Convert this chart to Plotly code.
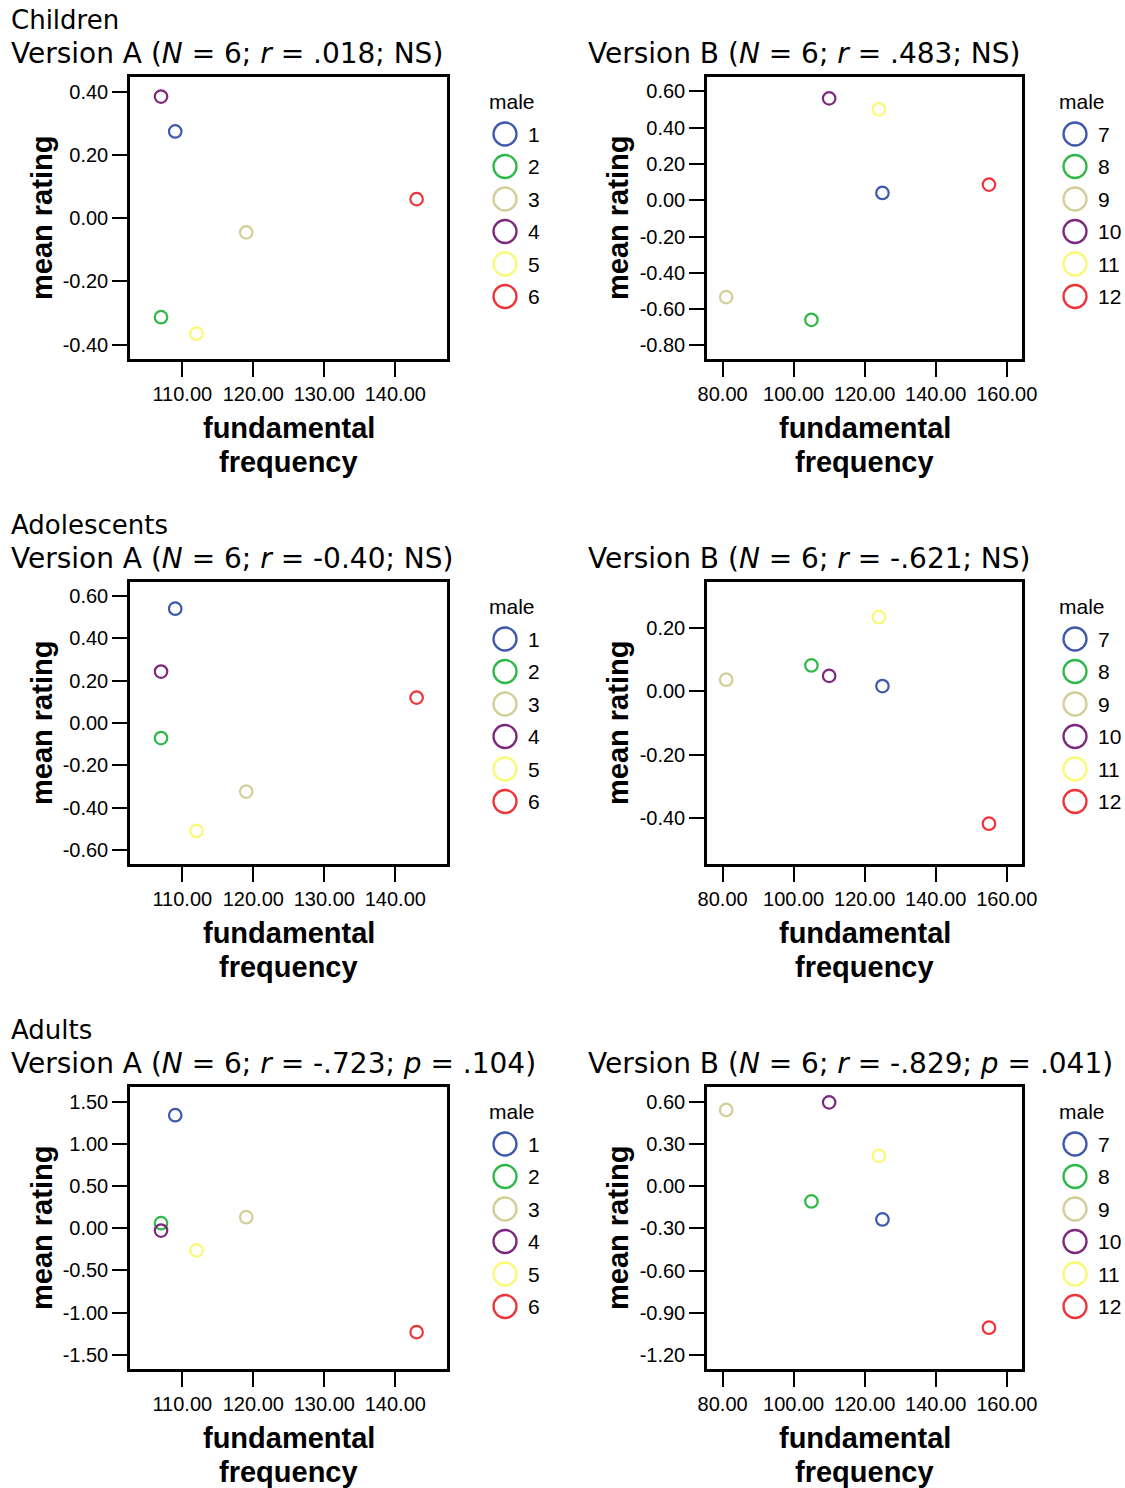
import plotly.graph_objects as go

W, H = 1125, 1488

# ---------------- data ----------------
males_A = ["1", "2", "3", "4", "5", "6"]
males_B = ["7", "8", "9", "10", "11", "12"]
freq_A = [109, 107, 119, 107, 112, 143]
freq_B = [125, 105, 81, 110, 124, 155]

rating_children_A = [0.274, -0.313, -0.045, 0.384, -0.365, 0.060]
rating_children_B = [0.040, -0.659, -0.534, 0.561, 0.501, 0.086]
rating_adolescents_A = [0.540, -0.071, -0.324, 0.243, -0.510, 0.120]
rating_adolescents_B = [0.016, 0.081, 0.036, 0.048, 0.233, -0.418]
rating_adults_A = [1.339, 0.059, 0.130, -0.028, -0.263, -1.232]
rating_adults_B = [-0.236, -0.108, 0.541, 0.595, 0.215, -1.004]

group_names = ["Children", "Adolescents", "Adults"]
titles_A = ["Version A (<i>N</i> = 6; <i>r</i> = .018; NS)",
            "Version A (<i>N</i> = 6; <i>r</i> = -0.40; NS)",
            "Version A (<i>N</i> = 6; <i>r</i> = -.723; <i>p</i> = .104)"]
titles_B = ["Version B (<i>N</i> = 6; <i>r</i> = .483; NS)",
            "Version B (<i>N</i> = 6; <i>r</i> = -.621; NS)",
            "Version B (<i>N</i> = 6; <i>r</i> = -.829; <i>p</i> = .041)"]

xticks_A = [110, 120, 130, 140]
xticks_B = [80, 100, 120, 140, 160]
yticks = [
    [-0.4, -0.2, 0.0, 0.2, 0.4],
    [-0.8, -0.6, -0.4, -0.2, 0.0, 0.2, 0.4, 0.6],
    [-0.6, -0.4, -0.2, 0.0, 0.2, 0.4, 0.6],
    [-0.4, -0.2, 0.0, 0.2],
    [-1.5, -1.0, -0.5, 0.0, 0.5, 1.0, 1.5],
    [-1.2, -0.9, -0.6, -0.3, 0.0, 0.3, 0.6],
]
colors = ["#3E58AC", "#2EB848", "#D3CE97", "#7C287D", "#FBF873", "#EF3338"]

# ---------------- layout config ----------------
yranges = [[-0.445, 0.446], [-0.875, 0.679], [-0.666, 0.666],
           [-0.545, 0.344], [-1.669, 1.673], [-1.297, 0.704]]
xrange_A = [102.63, 147.28]
xrange_B = [75.6, 164.3]

frame_x = [(130, 447), (707, 1022)]
frame_top = [77, 582, 1087]
frame_h = 282


def fmt(v):
    s = f"{v:.2f}"
    return "0.00" if s == "-0.00" else s


def px(x):
    return x / W


def py(y):
    return 1 - y / H


fig = go.Figure()
annotations = []
shapes = []

panel_data = [
    (rating_children_A, rating_children_B),
    (rating_adolescents_A, rating_adolescents_B),
    (rating_adults_A, rating_adults_B),
]

tick_font = dict(family="Liberation Sans, Arial, sans-serif", size=20, color="black")
group_font = dict(family="DejaVu Sans, Verdana, sans-serif", size=26, color="black")
title_font = dict(family="DejaVu Sans, Verdana, sans-serif", size=28, color="black")
bold_font = dict(family="Liberation Sans, Arial, sans-serif", size=29, color="black")
legend_font = dict(family="Liberation Sans, Arial, sans-serif", size=21, color="black")

idx = 0
for r in range(3):
    top = frame_top[r]
    for c in range(2):
        idx += 1
        k = r * 2 + c
        xa = "x" if idx == 1 else f"x{idx}"
        ya = "y" if idx == 1 else f"y{idx}"
        freqs = freq_A if c == 0 else freq_B
        males = males_A if c == 0 else males_B
        ratings = panel_data[r][c]
        for i in range(6):
            fig.add_trace(go.Scatter(
                x=[freqs[i]], y=[ratings[i]], mode="markers",
                name=males[i], showlegend=False,
                xaxis=xa, yaxis=ya,
                marker=dict(symbol="circle-open", size=12.5, color=colors[i],
                            line=dict(width=2.2, color=colors[i])),
            ))
        x0, x1 = frame_x[c]
        xt = xticks_A if c == 0 else xticks_B
        axis_common = dict(showline=True, mirror=True, linewidth=2.5, linecolor="black",
                           ticks="outside", ticklen=15, tickwidth=2, tickcolor="black",
                           showgrid=False, zeroline=False, tickfont=tick_font,
                           tickangle=0, automargin=False)
        fig.layout[("xaxis" if idx == 1 else f"xaxis{idx}")] = dict(
            domain=[px(x0), px(x1)], anchor=ya,
            range=xrange_A if c == 0 else xrange_B,
            tickvals=xt, ticktext=[fmt(v) for v in xt], **axis_common)
        fig.layout[("yaxis" if idx == 1 else f"yaxis{idx}")] = dict(
            domain=[py(top + frame_h), py(top)], anchor=xa,
            range=yranges[k],
            tickvals=yticks[k], ticktext=[fmt(v) for v in yticks[k]], **axis_common)

        # panel titles
        annotations.append(dict(
            x=px(9 if c == 0 else 586), y=py(top - 24), xref="paper", yref="paper",
            text=titles_A[r] if c == 0 else titles_B[r], showarrow=False,
            xanchor="left", yanchor="middle", font=title_font))
        # axis titles
        xc = (x0 + x1) / 2
        annotations.append(dict(
            x=px(xc), y=py(top + frame_h + 69), xref="paper", yref="paper",
            text="<b>fundamental</b>", showarrow=False,
            xanchor="center", yanchor="middle", font=bold_font))
        annotations.append(dict(
            x=px(xc), y=py(top + frame_h + 103), xref="paper", yref="paper",
            text="<b>frequency</b>", showarrow=False,
            xanchor="center", yanchor="middle", font=bold_font))
        annotations.append(dict(
            x=px(42 if c == 0 else 618), y=py(top + 141), xref="paper", yref="paper",
            text="<b>mean rating</b>", showarrow=False, textangle=-90,
            xanchor="center", yanchor="middle", font=bold_font))
        # legend
        lx = 505 if c == 0 else 1075
        annotations.append(dict(
            x=px(lx - 18), y=py(top + 24), xref="paper", yref="paper",
            text="male", showarrow=False, xanchor="left", yanchor="middle",
            font=legend_font))
        for i in range(6):
            cy = top + 57 + i * 32.5
            shapes.append(dict(
                type="circle", xref="paper", yref="paper",
                xsizemode="pixel", ysizemode="pixel",
                xanchor=px(lx), yanchor=py(cy),
                x0=-11.5, x1=11.5, y0=-11.5, y1=11.5,
                line=dict(color=colors[i], width=2.3)))
            annotations.append(dict(
                x=px(lx + 21), y=py(cy), xref="paper", yref="paper",
                text=males[i], showarrow=False, xanchor="left", yanchor="middle",
                font=legend_font))

    # group title
    annotations.append(dict(
        x=px(9), y=py(top - 57), xref="paper", yref="paper",
        text=group_names[r], showarrow=False, xanchor="left", yanchor="middle",
        font=group_font))

fig.update_layout(
    width=W, height=H,
    margin=dict(l=0, r=0, t=0, b=0, pad=0, autoexpand=False),
    paper_bgcolor="white", plot_bgcolor="white",
    annotations=annotations, shapes=shapes,
    showlegend=False,
)

fig.write_html("out.html")
